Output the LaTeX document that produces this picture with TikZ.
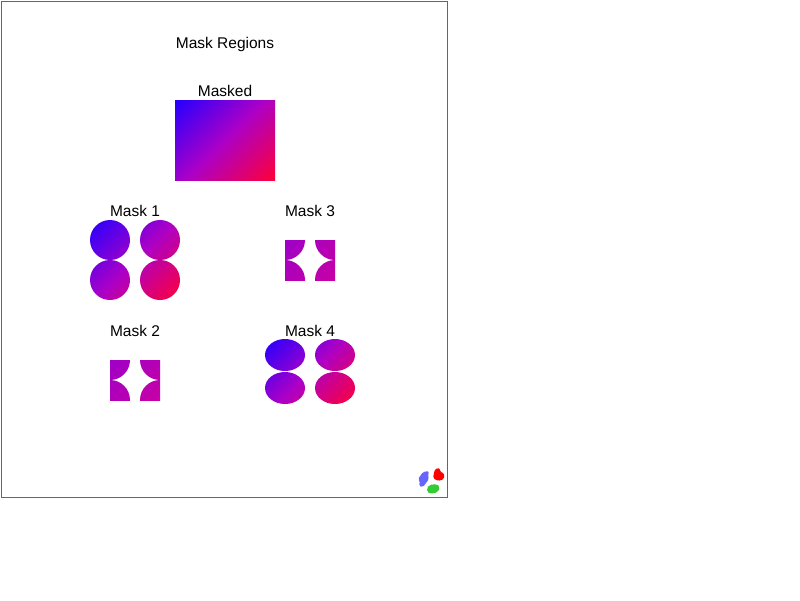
\documentclass[tikz,border=0pt]{standalone}
\usepackage{fontspec}
\setmainfont{Liberation Sans}
\usetikzlibrary{positioning}

\definecolor{maskblue}{RGB}{36,0,255}
\definecolor{maskmid}{RGB}{172,0,198}
\definecolor{maskred}{RGB}{255,0,56}
\definecolor{innerblue}{RGB}{140,0,214}
\definecolor{innerred}{RGB}{218,0,150}
\definecolor{logoblue}{RGB}{102,102,255}
\definecolor{logored}{RGB}{255,0,0}
\definecolor{logogreen}{RGB}{51,204,51}

% corner to corner when turned by 45 degrees
\pgfdeclareverticalshading{maskgrad}{100bp}{color(0bp)=(maskred); color(14.6bp)=(maskred);
  color(50bp)=(maskmid); color(85.4bp)=(maskblue); color(100bp)=(maskblue)}
\pgfdeclareverticalshading{innergrad}{100bp}{color(0bp)=(innerred); color(14.6bp)=(innerred);
  color(85.4bp)=(innerblue); color(100bp)=(innerblue)}

\begin{document}
\begin{tikzpicture}[
  x=1pt,y=-1pt,
  lbl/.style={font=\fontsize{15.5}{18}\selectfont,inner sep=0pt},
  grad/.style={shading=maskgrad,shading angle=45},
  innergrad/.style={shading=innergrad,shading angle=45},
]
  \useasboundingbox[fill=white] (0,0) rectangle (800,600);
  \draw[black!60,line width=1pt] (1,1) rectangle (447,497);

  \node[lbl] (title) at (225,44) {Mask Regions};
  \node[lbl] (masked) at (225,91) {Masked};
  \shade[grad] (175,100) rectangle (275,180);

  % mask 1 -- full circles
  \node[lbl] (mask1) at (135,211) {Mask 1};
  \shade[grad] (110,240) circle (20) (160,240) circle (20)
               (110,280) circle (20) (160,280) circle (20);

  % mask 3 -- corners only
  \node[lbl] (mask3) at (310,211) {Mask 3};
  \begin{scope}
    \clip (285,240) rectangle (335,280);
    \shade[innergrad] (285,240) circle (20) (335,240) circle (20)
                      (285,280) circle (20) (335,280) circle (20);
  \end{scope}

  % mask 2 -- corners only
  \node[lbl] (mask2) at (135,331) {Mask 2};
  \begin{scope}
    \clip (110,360) rectangle (160,400);
    \shade[innergrad] (110,360) circle (20) (160,360) circle (20)
                      (110,400) circle (20) (160,400) circle (20);
  \end{scope}

  % mask 4 -- ellipses
  \node[lbl] (mask4) at (310,331) {Mask 4};
  \shade[grad] (285,355) ellipse [x radius=20,y radius=16] (335,355) ellipse [x radius=20,y radius=16]
               (285,388) ellipse [x radius=20,y radius=16] (335,388) ellipse [x radius=20,y radius=16];

  % logo
  \fill[logoblue,rounded corners=1.5pt] (423,472) -- (429,471) -- (428,476) -- (429,479)
    -- (423,487) -- (419,486) -- (420,481) -- (418,479) -- cycle;
  \fill[logored,rounded corners=1.5pt] (435,469) -- (440,468) -- (440,472) -- (444,473)
    -- (444,479) -- (438,481) -- (433,478) -- (434,473) -- cycle;
  \fill[logogreen,rounded corners=2pt] (429,485) -- (437,484) -- (440,487) -- (438,492)
    -- (431,494) -- (427,492) -- (427,488) -- cycle;
\end{tikzpicture}
\end{document}
